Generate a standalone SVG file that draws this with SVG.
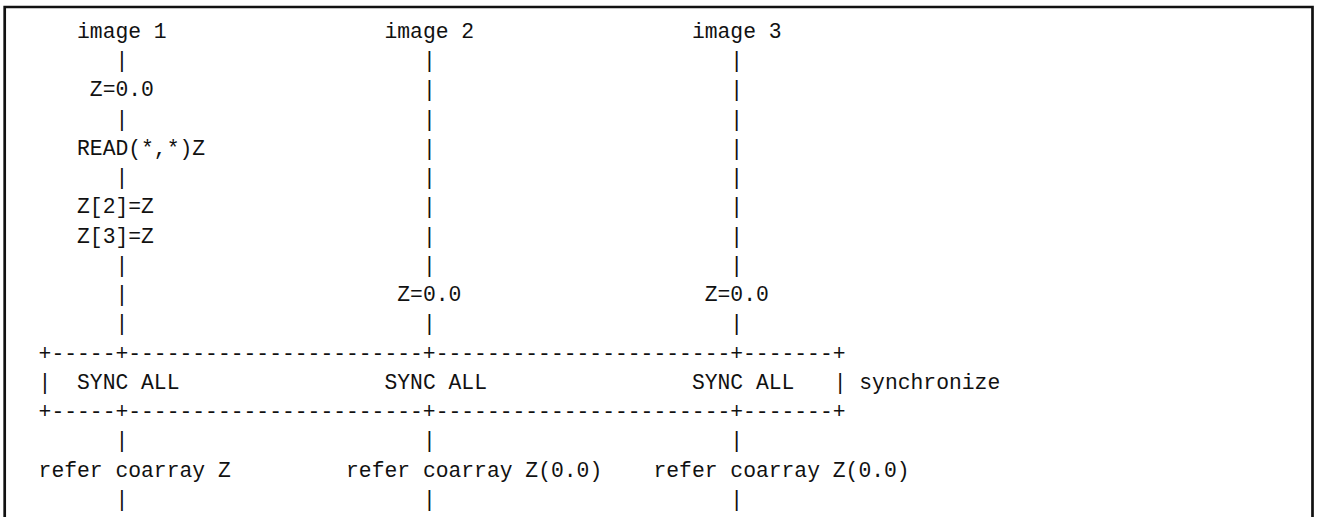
<svg xmlns="http://www.w3.org/2000/svg" width="1317" height="517" viewBox="0 0 1317 517">
<style>
text{font-family:"Liberation Mono","Courier New",monospace;font-size:21.35px;fill:#111;}
.frame{fill:none;stroke:#111;stroke-width:2.7;}
</style>
<rect x="0" y="0" width="1317" height="517" fill="#fff"/>
<path class="frame" d="M4.7,520 V7 H1312.5 V520"/>
<g id="image1">
<text x="77.03" y="37.7">image 1</text>
<text x="115.46" y="66.97">|</text>
<text x="89.84" y="96.24">Z=0.0</text>
<text x="115.46" y="125.51">|</text>
<text x="77.03" y="154.78">READ(*,*)Z</text>
<text x="115.46" y="184.05">|</text>
<text x="77.03" y="213.32">Z[2]=Z</text>
<text x="77.03" y="242.59">Z[3]=Z</text>
<text x="115.46" y="271.86">|</text>
<text x="115.46" y="301.13">|</text>
<text x="115.46" y="330.4">|</text>
</g>
<g id="image2">
<text x="384.47" y="37.7">image 2</text>
<text x="422.9" y="66.97">|</text>
<text x="422.9" y="96.24">|</text>
<text x="422.9" y="125.51">|</text>
<text x="422.9" y="154.78">|</text>
<text x="422.9" y="184.05">|</text>
<text x="422.9" y="213.32">|</text>
<text x="422.9" y="242.59">|</text>
<text x="422.9" y="271.86">|</text>
<text x="397.28" y="301.13">Z=0.0</text>
<text x="422.9" y="330.4">|</text>
</g>
<g id="image3">
<text x="691.91" y="37.7">image 3</text>
<text x="730.34" y="66.97">|</text>
<text x="730.34" y="96.24">|</text>
<text x="730.34" y="125.51">|</text>
<text x="730.34" y="154.78">|</text>
<text x="730.34" y="184.05">|</text>
<text x="730.34" y="213.32">|</text>
<text x="730.34" y="242.59">|</text>
<text x="730.34" y="271.86">|</text>
<text x="704.72" y="301.13">Z=0.0</text>
<text x="730.34" y="330.4">|</text>
</g>
<g id="sync">
<text x="38.6" y="359.67">+-----+-----------------------+-----------------------+-------+</text>
<text x="38.6" y="388.94">|</text>
<text x="77.03" y="388.94">SYNC ALL</text>
<text x="384.47" y="388.94">SYNC ALL</text>
<text x="691.91" y="388.94">SYNC ALL</text>
<text x="833.68" y="388.94">|</text>
<text x="859.3" y="388.94">synchronize</text>
<text x="38.6" y="418.21">+-----+-----------------------+-----------------------+-------+</text>
</g>
<g id="after">
<text x="115.46" y="447.48">|</text>
<text x="422.9" y="447.48">|</text>
<text x="730.34" y="447.48">|</text>
<text x="38.6" y="476.75">refer coarray Z</text>
<text x="346.04" y="476.75">refer coarray Z(0.0)</text>
<text x="653.48" y="476.75">refer coarray Z(0.0)</text>
<text x="115.46" y="506.02">|</text>
<text x="422.9" y="506.02">|</text>
<text x="730.34" y="506.02">|</text>
</g>
</svg>
